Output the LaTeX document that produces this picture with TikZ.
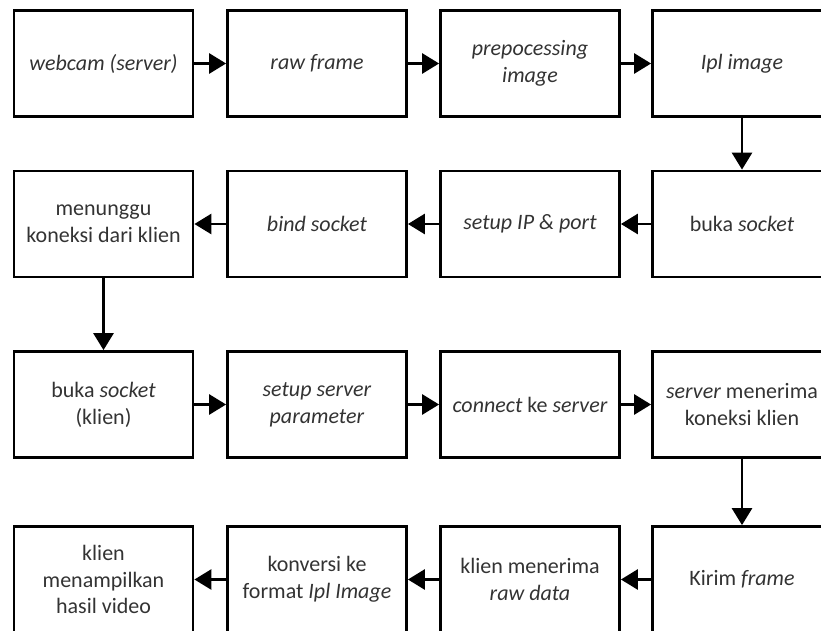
\documentclass[tikz,border=0pt]{standalone}
\usepackage{fontspec}
\setmainfont{Carlito}
\usetikzlibrary{arrows.meta}

\tikzset{
  langkah/.style={draw, line width=2.8pt, minimum width=179pt, minimum height=106pt,
    inner sep=2pt, align=center, font=\fontsize{22}{26.8}\selectfont, text=black!80},
  panah/.style={-{Triangle[length=17pt,width=20pt]}, line width=2.8pt}
}

\begin{document}
\begin{tikzpicture}[x=1pt,y=1pt,yscale=-1]
\useasboundingbox (0,0) rectangle (821,631);
\clip (0,0) rectangle (821,631);

% baris 1 : server
\node[langkah] (webcam) at (103.5,63.5) {\textit{webcam (server)}};
\node[langkah] (rawframe) at (317,63.5) {\textit{raw frame}};
\node[langkah] (prepro) at (530,63.5) {\textit{prepocessing}\\\textit{image}};
\node[langkah] (iplimg) at (742,63.5) {\textit{Ipl image}};

% baris 2
\node[langkah] (bukasock) at (742,224) {buka \textit{socket}};
\node[langkah] (setupip) at (530,224) {\textit{setup IP \& port}};
\node[langkah] (bindsock) at (317,224) {\textit{bind socket}};
\node[langkah] (menunggu) at (103.5,224) {menunggu\\koneksi dari klien};

% baris 3 : klien
\node[langkah] (bukaklien) at (103.5,404.5) {buka \textit{socket}\\(klien)};
\node[langkah] (setupsrv) at (317,404.5) {\textit{setup server}\\\textit{parameter}};
\node[langkah] (connect) at (530,404.5) {\textit{connect} ke \textit{server}};
\node[langkah] (terima) at (742,404.5) {\textit{server} menerima\\koneksi klien};

% baris 4
\node[langkah] (kirim) at (742,579.5) {Kirim \textit{frame}};
\node[langkah] (rawdata) at (530,579.5) {klien menerima\\\textit{raw data}};
\node[langkah] (konversi) at (317,579.5) {konversi ke\\format \textit{Ipl Image}};
\node[langkah] (tampil) at (103.5,579.5) {klien\\menampilkan\\hasil video};

% panah
\draw[panah] (webcam) -- (rawframe);
\draw[panah] (rawframe) -- (prepro);
\draw[panah] (prepro) -- (iplimg);
\draw[panah] (iplimg) -- (bukasock);
\draw[panah] (bukasock) -- (setupip);
\draw[panah] (setupip) -- (bindsock);
\draw[panah] (bindsock) -- (menunggu);
\draw[panah] (menunggu) -- (bukaklien);
\draw[panah] (bukaklien) -- (setupsrv);
\draw[panah] (setupsrv) -- (connect);
\draw[panah] (connect) -- (terima);
\draw[panah] (terima) -- (kirim);
\draw[panah] (kirim) -- (rawdata);
\draw[panah] (rawdata) -- (konversi);
\draw[panah] (konversi) -- (tampil);
\end{tikzpicture}
\end{document}
